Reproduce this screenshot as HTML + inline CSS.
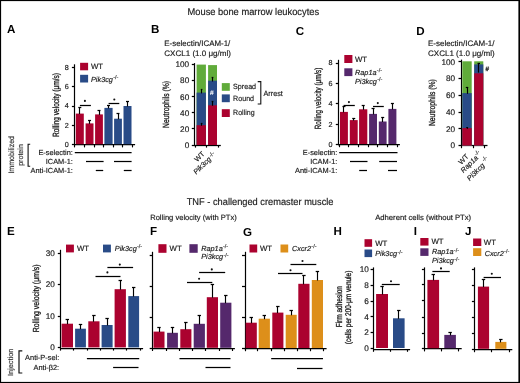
<!DOCTYPE html>
<html><head><meta charset="utf-8"><style>
html,body{margin:0;padding:0;background:#fff;}
svg{display:block;text-rendering:geometricPrecision;font-family:"Liberation Sans",sans-serif;will-change:transform;}
text{stroke:#111;stroke-width:0.22px;stroke-opacity:0.7;}
text[font-weight="bold"]{stroke-width:0;}
</style></head><body>
<svg width="520" height="383" viewBox="0 0 520 383">
<rect width="520" height="383" fill="#fff"/>
<rect x="0.00" y="0.00" width="520.00" height="1.10" fill="#000"/>
<rect x="0.00" y="0.00" width="1.10" height="383.00" fill="#000"/>
<rect x="518.40" y="0.00" width="1.60" height="383.00" fill="#000"/>
<rect x="0.00" y="381.90" width="520.00" height="1.10" fill="#000"/>
<text x="187.50" y="15.30" font-size="9.8" textLength="131.60" lengthAdjust="spacingAndGlyphs" fill="#222">Mouse bone marrow leukocytes</text>
<text x="186.70" y="205.20" font-size="9.8" textLength="146.80" lengthAdjust="spacingAndGlyphs" fill="#222">TNF - challenged cremaster muscle</text>
<text x="150.20" y="219.50" font-size="7.6" textLength="86.60" lengthAdjust="spacingAndGlyphs" fill="#222">Rolling velocity (with PTx)</text>
<text x="375.20" y="219.50" font-size="7.6" textLength="96.00" lengthAdjust="spacingAndGlyphs" fill="#222">Adherent cells (without PTx)</text>
<text x="7.10" y="32.80" font-size="11.6" font-weight="bold" fill="#000">A</text>
<text x="151.00" y="32.80" font-size="11.6" font-weight="bold" fill="#000">B</text>
<text x="295.80" y="34.80" font-size="11.6" font-weight="bold" fill="#000">C</text>
<text x="416.20" y="34.80" font-size="11.6" font-weight="bold" fill="#000">D</text>
<text x="6.90" y="235.30" font-size="11.6" font-weight="bold" fill="#000">E</text>
<text x="149.90" y="235.30" font-size="11.6" font-weight="bold" fill="#000">F</text>
<text x="242.90" y="235.60" font-size="11.6" font-weight="bold" fill="#000">G</text>
<text x="333.60" y="235.30" font-size="11.6" font-weight="bold" fill="#000">H</text>
<text x="413.70" y="235.30" font-size="11.6" font-weight="bold" fill="#000">I</text>
<text x="464.90" y="235.30" font-size="11.6" font-weight="bold" fill="#000">J</text>
<line x1="74.50" y1="64.30" x2="74.50" y2="145.20" stroke="#000" stroke-width="1.2"/>
<line x1="71.90" y1="67.50" x2="74.90" y2="67.50" stroke="#000" stroke-width="1.25"/>
<text x="68.70" y="69.79" font-size="7.2" text-anchor="end" fill="#222">8</text>
<line x1="71.90" y1="86.50" x2="74.90" y2="86.50" stroke="#000" stroke-width="1.25"/>
<text x="68.70" y="89.09" font-size="7.2" text-anchor="end" fill="#222">6</text>
<line x1="71.90" y1="106.50" x2="74.90" y2="106.50" stroke="#000" stroke-width="1.25"/>
<text x="68.70" y="108.39" font-size="7.2" text-anchor="end" fill="#222">4</text>
<line x1="71.90" y1="125.50" x2="74.90" y2="125.50" stroke="#000" stroke-width="1.25"/>
<text x="68.70" y="127.69" font-size="7.2" text-anchor="end" fill="#222">2</text>
<line x1="71.90" y1="144.50" x2="74.90" y2="144.50" stroke="#000" stroke-width="1.25"/>
<text x="68.70" y="146.99" font-size="7.2" text-anchor="end" fill="#222">0</text>
<line x1="74.30" y1="144.50" x2="135.10" y2="144.50" stroke="#000" stroke-width="1.25"/>
<line x1="74.50" y1="144.80" x2="74.50" y2="147.40" stroke="#000" stroke-width="1.15"/>
<line x1="84.50" y1="144.80" x2="84.50" y2="147.40" stroke="#000" stroke-width="1.15"/>
<line x1="94.50" y1="144.80" x2="94.50" y2="147.40" stroke="#000" stroke-width="1.15"/>
<line x1="103.50" y1="144.80" x2="103.50" y2="147.40" stroke="#000" stroke-width="1.15"/>
<line x1="113.50" y1="144.80" x2="113.50" y2="147.40" stroke="#000" stroke-width="1.15"/>
<line x1="122.50" y1="144.80" x2="122.50" y2="147.40" stroke="#000" stroke-width="1.15"/>
<line x1="132.50" y1="144.80" x2="132.50" y2="147.40" stroke="#000" stroke-width="1.15"/>
<rect x="75.80" y="113.60" width="8.00" height="30.60" fill="#ab022f"/>
<line x1="79.50" y1="114.10" x2="79.50" y2="107.20" stroke="#000" stroke-width="1.15"/>
<line x1="78.30" y1="107.50" x2="81.30" y2="107.50" stroke="#000" stroke-width="1.25"/>
<rect x="85.60" y="123.40" width="7.90" height="20.80" fill="#ab022f"/>
<line x1="89.50" y1="123.90" x2="89.50" y2="120.50" stroke="#000" stroke-width="1.15"/>
<line x1="88.05" y1="120.50" x2="91.05" y2="120.50" stroke="#000" stroke-width="1.25"/>
<rect x="95.10" y="114.40" width="7.80" height="29.80" fill="#ab022f"/>
<line x1="99.50" y1="114.90" x2="99.50" y2="110.80" stroke="#000" stroke-width="1.15"/>
<line x1="97.50" y1="110.50" x2="100.50" y2="110.50" stroke="#000" stroke-width="1.25"/>
<rect x="104.40" y="107.90" width="8.20" height="36.30" fill="#294b87"/>
<line x1="108.50" y1="108.40" x2="108.50" y2="105.00" stroke="#000" stroke-width="1.15"/>
<line x1="107.00" y1="105.50" x2="110.00" y2="105.50" stroke="#000" stroke-width="1.25"/>
<rect x="114.10" y="118.70" width="7.80" height="25.50" fill="#294b87"/>
<line x1="118.50" y1="119.20" x2="118.50" y2="113.90" stroke="#000" stroke-width="1.15"/>
<line x1="116.50" y1="113.50" x2="119.50" y2="113.50" stroke="#000" stroke-width="1.25"/>
<rect x="123.50" y="106.00" width="8.00" height="38.20" fill="#294b87"/>
<line x1="127.50" y1="106.50" x2="127.50" y2="101.90" stroke="#000" stroke-width="1.15"/>
<line x1="126.00" y1="101.50" x2="129.00" y2="101.50" stroke="#000" stroke-width="1.25"/>
<line x1="79.90" y1="105.50" x2="90.90" y2="105.50" stroke="#000" stroke-width="1.25"/>
<circle cx="84.90" cy="100.90" r="1.05" fill="#111"/>
<line x1="108.60" y1="103.50" x2="119.30" y2="103.50" stroke="#000" stroke-width="1.25"/>
<circle cx="114.30" cy="99.50" r="1.05" fill="#111"/>
<rect x="80.10" y="62.80" width="8.00" height="7.50" fill="#ab022f"/>
<text x="91.00" y="68.90" font-size="7.8" fill="#222">WT</text>
<rect x="80.10" y="74.80" width="8.00" height="7.70" fill="#294b87"/>
<text x="91.00" y="81.90" font-size="7.3" font-style="italic" fill="#222">Pik3cg</text>
<text x="113.21" y="79.40" font-size="5.5" fill="#555">-/-</text>
<text x="58.50" y="105.00" font-size="9.0" text-anchor="middle" textLength="64.00" lengthAdjust="spacingAndGlyphs" transform="rotate(-90 58.50 105.00)" fill="#111" style="stroke-width:0.4px">Rolling velocity (μm/s)</text>
<text x="72.90" y="154.90" font-size="7.4" text-anchor="end" fill="#222">E-selectin:</text>
<text x="72.90" y="164.10" font-size="7.4" text-anchor="end" fill="#222">ICAM-1:</text>
<text x="72.90" y="173.10" font-size="7.4" text-anchor="end" fill="#222">Anti-ICAM-1:</text>
<line x1="74.80" y1="152.50" x2="131.60" y2="152.50" stroke="#000" stroke-width="1.25"/>
<line x1="86.00" y1="161.50" x2="103.60" y2="161.50" stroke="#000" stroke-width="1.25"/>
<line x1="114.00" y1="161.50" x2="131.60" y2="161.50" stroke="#000" stroke-width="1.25"/>
<line x1="95.80" y1="170.50" x2="103.20" y2="170.50" stroke="#000" stroke-width="1.25"/>
<line x1="123.80" y1="170.50" x2="131.60" y2="170.50" stroke="#000" stroke-width="1.25"/>
<text x="14.20" y="154.80" font-size="7.9" text-anchor="middle" textLength="37.60" lengthAdjust="spacingAndGlyphs" transform="rotate(-90 14.20 154.80)" fill="#444">Immobilized</text>
<text x="23.20" y="155.00" font-size="7.4" text-anchor="middle" textLength="21.70" lengthAdjust="spacingAndGlyphs" transform="rotate(-90 23.20 155.00)" fill="#444">protein</text>
<path d="M30.2,144.3 H28.1 V166.3 H30.2" fill="none" stroke="#111" stroke-width="1.1"/>
<text x="164.30" y="46.00" font-size="7.9" textLength="66.00" lengthAdjust="spacingAndGlyphs" fill="#222">E-selectin/ICAM-1/</text>
<text x="164.30" y="55.70" font-size="7.9" textLength="66.60" lengthAdjust="spacingAndGlyphs" fill="#222">CXCL1 (1.0 μg/ml)</text>
<line x1="194.50" y1="63.10" x2="194.50" y2="145.60" stroke="#000" stroke-width="1.2"/>
<line x1="191.80" y1="64.50" x2="194.80" y2="64.50" stroke="#000" stroke-width="1.25"/>
<text x="189.20" y="67.35" font-size="8.2" text-anchor="end" fill="#222">100</text>
<line x1="191.80" y1="80.50" x2="194.80" y2="80.50" stroke="#000" stroke-width="1.25"/>
<text x="189.20" y="83.43" font-size="8.2" text-anchor="end" fill="#222">80</text>
<line x1="191.80" y1="96.50" x2="194.80" y2="96.50" stroke="#000" stroke-width="1.25"/>
<text x="189.20" y="99.51" font-size="8.2" text-anchor="end" fill="#222">60</text>
<line x1="191.80" y1="112.50" x2="194.80" y2="112.50" stroke="#000" stroke-width="1.25"/>
<text x="189.20" y="115.59" font-size="8.2" text-anchor="end" fill="#222">40</text>
<line x1="191.80" y1="128.50" x2="194.80" y2="128.50" stroke="#000" stroke-width="1.25"/>
<text x="189.20" y="131.67" font-size="8.2" text-anchor="end" fill="#222">20</text>
<line x1="191.80" y1="145.50" x2="194.80" y2="145.50" stroke="#000" stroke-width="1.25"/>
<text x="189.20" y="147.75" font-size="8.2" text-anchor="end" fill="#222">0</text>
<line x1="194.20" y1="145.50" x2="220.80" y2="145.50" stroke="#000" stroke-width="1.25"/>
<line x1="195.50" y1="145.00" x2="195.50" y2="147.60" stroke="#000" stroke-width="1.15"/>
<line x1="206.50" y1="145.00" x2="206.50" y2="147.60" stroke="#000" stroke-width="1.15"/>
<line x1="218.50" y1="145.00" x2="218.50" y2="147.60" stroke="#000" stroke-width="1.15"/>
<rect x="196.60" y="64.60" width="9.30" height="80.40" fill="#60ab3a"/>
<rect x="196.60" y="92.60" width="9.30" height="52.40" fill="#294b87"/>
<rect x="196.60" y="125.20" width="9.30" height="19.80" fill="#ab022f"/>
<rect x="208.10" y="65.10" width="8.90" height="79.90" fill="#60ab3a"/>
<rect x="208.10" y="80.70" width="8.90" height="64.30" fill="#294b87"/>
<rect x="208.10" y="105.30" width="8.90" height="39.70" fill="#ab022f"/>
<line x1="201.50" y1="93.40" x2="201.50" y2="89.60" stroke="#000" stroke-width="1.15"/>
<line x1="200.80" y1="89.50" x2="202.40" y2="89.50" stroke="#000" stroke-width="1.25"/>
<line x1="201.50" y1="125.80" x2="201.50" y2="123.70" stroke="#000" stroke-width="1.15"/>
<line x1="200.80" y1="123.50" x2="202.40" y2="123.50" stroke="#000" stroke-width="1.25"/>
<line x1="212.50" y1="81.50" x2="212.50" y2="77.20" stroke="#000" stroke-width="1.15"/>
<line x1="211.70" y1="77.50" x2="213.30" y2="77.50" stroke="#000" stroke-width="1.25"/>
<line x1="212.50" y1="105.80" x2="212.50" y2="101.00" stroke="#000" stroke-width="1.15"/>
<line x1="211.70" y1="101.50" x2="213.30" y2="101.50" stroke="#000" stroke-width="1.25"/>
<text x="211.90" y="95.00" font-size="6.5" text-anchor="middle" fill="#fff" style="stroke:#fff;stroke-opacity:0.6">#</text>
<rect x="221.80" y="83.10" width="8.00" height="7.70" fill="#60ab3a"/>
<text x="233.10" y="89.40" font-size="7.6" textLength="23.00" lengthAdjust="spacingAndGlyphs" fill="#222">Spread</text>
<rect x="221.80" y="94.40" width="8.00" height="7.80" fill="#294b87"/>
<text x="233.10" y="100.60" font-size="7.6" textLength="21.00" lengthAdjust="spacingAndGlyphs" fill="#222">Round</text>
<rect x="221.80" y="109.20" width="8.00" height="7.80" fill="#ab022f"/>
<text x="233.10" y="115.00" font-size="7.6" textLength="21.50" lengthAdjust="spacingAndGlyphs" fill="#222">Rolling</text>
<path d="M257.7,81.6 H260.8 V104.0 H257.7" fill="none" stroke="#111" stroke-width="1.1"/>
<text x="263.50" y="95.50" font-size="7.6" textLength="19.30" lengthAdjust="spacingAndGlyphs" fill="#222">Arrest</text>
<text x="169.30" y="104.40" font-size="9.0" text-anchor="middle" textLength="47.00" lengthAdjust="spacingAndGlyphs" transform="rotate(-90 169.30 104.40)" fill="#111" style="stroke-width:0.4px">Neutrophils (%)</text>
<text x="205.10" y="154.30" font-size="7.2" text-anchor="end" transform="rotate(-45 205.10 154.30)" fill="#222">WT</text>
<text x="211.60" y="159.60" font-size="7.2" text-anchor="end" font-style="italic" transform="rotate(-45 211.60 159.60)" fill="#222">Pik3cg</text>
<text x="211.00" y="157.50" font-size="5.5" transform="rotate(-45 211.00 157.50)" fill="#555">-/-</text>
<line x1="338.50" y1="59.80" x2="338.50" y2="145.20" stroke="#000" stroke-width="1.2"/>
<line x1="335.80" y1="63.50" x2="338.80" y2="63.50" stroke="#000" stroke-width="1.25"/>
<text x="332.50" y="65.39" font-size="7.2" text-anchor="end" fill="#222">8</text>
<line x1="335.80" y1="83.50" x2="338.80" y2="83.50" stroke="#000" stroke-width="1.25"/>
<text x="332.50" y="85.79" font-size="7.2" text-anchor="end" fill="#222">6</text>
<line x1="335.80" y1="103.50" x2="338.80" y2="103.50" stroke="#000" stroke-width="1.25"/>
<text x="332.50" y="106.19" font-size="7.2" text-anchor="end" fill="#222">4</text>
<line x1="335.80" y1="124.50" x2="338.80" y2="124.50" stroke="#000" stroke-width="1.25"/>
<text x="332.50" y="126.59" font-size="7.2" text-anchor="end" fill="#222">2</text>
<line x1="335.80" y1="144.50" x2="338.80" y2="144.50" stroke="#000" stroke-width="1.25"/>
<text x="332.50" y="146.99" font-size="7.2" text-anchor="end" fill="#222">0</text>
<line x1="338.20" y1="144.50" x2="399.90" y2="144.50" stroke="#000" stroke-width="1.25"/>
<line x1="339.50" y1="144.60" x2="339.50" y2="147.20" stroke="#000" stroke-width="1.15"/>
<line x1="348.50" y1="144.60" x2="348.50" y2="147.20" stroke="#000" stroke-width="1.15"/>
<line x1="358.50" y1="144.60" x2="358.50" y2="147.20" stroke="#000" stroke-width="1.15"/>
<line x1="368.50" y1="144.60" x2="368.50" y2="147.20" stroke="#000" stroke-width="1.15"/>
<line x1="377.50" y1="144.60" x2="377.50" y2="147.20" stroke="#000" stroke-width="1.15"/>
<line x1="387.50" y1="144.60" x2="387.50" y2="147.20" stroke="#000" stroke-width="1.15"/>
<line x1="397.50" y1="144.60" x2="397.50" y2="147.20" stroke="#000" stroke-width="1.15"/>
<rect x="340.00" y="111.90" width="7.90" height="32.10" fill="#ab022f"/>
<line x1="343.50" y1="112.40" x2="343.50" y2="106.80" stroke="#000" stroke-width="1.15"/>
<line x1="342.45" y1="106.50" x2="345.45" y2="106.50" stroke="#000" stroke-width="1.25"/>
<rect x="349.80" y="120.10" width="7.90" height="23.90" fill="#ab022f"/>
<line x1="353.50" y1="120.60" x2="353.50" y2="118.00" stroke="#000" stroke-width="1.15"/>
<line x1="352.25" y1="118.50" x2="355.25" y2="118.50" stroke="#000" stroke-width="1.25"/>
<rect x="359.10" y="109.30" width="8.20" height="34.70" fill="#ab022f"/>
<line x1="363.50" y1="109.80" x2="363.50" y2="105.30" stroke="#000" stroke-width="1.15"/>
<line x1="361.70" y1="105.50" x2="364.70" y2="105.50" stroke="#000" stroke-width="1.25"/>
<rect x="369.10" y="113.90" width="7.90" height="30.10" fill="#55286c"/>
<line x1="373.50" y1="114.40" x2="373.50" y2="108.20" stroke="#000" stroke-width="1.15"/>
<line x1="371.55" y1="108.50" x2="374.55" y2="108.50" stroke="#000" stroke-width="1.25"/>
<rect x="378.80" y="121.50" width="7.80" height="22.50" fill="#55286c"/>
<line x1="382.50" y1="122.00" x2="382.50" y2="117.20" stroke="#000" stroke-width="1.15"/>
<line x1="381.20" y1="117.50" x2="384.20" y2="117.50" stroke="#000" stroke-width="1.25"/>
<rect x="388.40" y="108.90" width="8.00" height="35.10" fill="#55286c"/>
<line x1="392.50" y1="109.40" x2="392.50" y2="103.20" stroke="#000" stroke-width="1.15"/>
<line x1="390.90" y1="103.50" x2="393.90" y2="103.50" stroke="#000" stroke-width="1.25"/>
<line x1="343.60" y1="105.50" x2="354.80" y2="105.50" stroke="#000" stroke-width="1.25"/>
<circle cx="348.90" cy="102.10" r="1.05" fill="#111"/>
<line x1="373.00" y1="106.50" x2="383.80" y2="106.50" stroke="#000" stroke-width="1.25"/>
<circle cx="377.80" cy="103.10" r="1.05" fill="#111"/>
<rect x="344.30" y="55.00" width="8.10" height="8.00" fill="#ab022f"/>
<text x="355.00" y="61.50" font-size="7.8" fill="#222">WT</text>
<rect x="344.30" y="68.30" width="8.10" height="7.80" fill="#55286c"/>
<text x="355.00" y="74.90" font-size="7.3" font-style="italic" fill="#222">Rap1a</text>
<text x="376.81" y="72.40" font-size="5.5" fill="#555">-/-</text>
<text x="355.00" y="83.90" font-size="7.3" font-style="italic" fill="#222">Pi3kcg</text>
<text x="377.21" y="81.40" font-size="5.5" fill="#555">-/-</text>
<text x="321.20" y="98.40" font-size="9.0" text-anchor="middle" textLength="61.50" lengthAdjust="spacingAndGlyphs" transform="rotate(-90 321.20 98.40)" fill="#111" style="stroke-width:0.4px">Rolling velocity (μm/s)</text>
<text x="337.30" y="155.00" font-size="7.4" text-anchor="end" fill="#222">E-selectin:</text>
<text x="337.30" y="164.20" font-size="7.4" text-anchor="end" fill="#222">ICAM-1:</text>
<text x="337.30" y="173.20" font-size="7.4" text-anchor="end" fill="#222">Anti-ICAM-1:</text>
<line x1="339.20" y1="152.50" x2="397.50" y2="152.50" stroke="#000" stroke-width="1.25"/>
<line x1="350.00" y1="161.50" x2="367.50" y2="161.50" stroke="#000" stroke-width="1.25"/>
<line x1="379.20" y1="161.50" x2="397.00" y2="161.50" stroke="#000" stroke-width="1.25"/>
<line x1="359.20" y1="170.50" x2="367.00" y2="170.50" stroke="#000" stroke-width="1.25"/>
<line x1="388.00" y1="170.50" x2="397.00" y2="170.50" stroke="#000" stroke-width="1.25"/>
<text x="428.00" y="46.20" font-size="7.9" textLength="66.50" lengthAdjust="spacingAndGlyphs" fill="#222">E-selectin/ICAM-1/</text>
<text x="428.00" y="56.00" font-size="7.9" textLength="66.60" lengthAdjust="spacingAndGlyphs" fill="#222">CXCL1 (1.0 μg/ml)</text>
<line x1="461.50" y1="59.60" x2="461.50" y2="146.20" stroke="#000" stroke-width="1.2"/>
<line x1="458.50" y1="61.50" x2="461.50" y2="61.50" stroke="#000" stroke-width="1.25"/>
<text x="455.10" y="64.60" font-size="8.2" text-anchor="end" fill="#222">100</text>
<line x1="458.50" y1="78.50" x2="461.50" y2="78.50" stroke="#000" stroke-width="1.25"/>
<text x="455.10" y="81.35" font-size="8.2" text-anchor="end" fill="#222">80</text>
<line x1="458.50" y1="95.50" x2="461.50" y2="95.50" stroke="#000" stroke-width="1.25"/>
<text x="455.10" y="98.10" font-size="8.2" text-anchor="end" fill="#222">60</text>
<line x1="458.50" y1="112.50" x2="461.50" y2="112.50" stroke="#000" stroke-width="1.25"/>
<text x="455.10" y="114.85" font-size="8.2" text-anchor="end" fill="#222">40</text>
<line x1="458.50" y1="128.50" x2="461.50" y2="128.50" stroke="#000" stroke-width="1.25"/>
<text x="455.10" y="131.60" font-size="8.2" text-anchor="end" fill="#222">20</text>
<line x1="458.50" y1="145.50" x2="461.50" y2="145.50" stroke="#000" stroke-width="1.25"/>
<text x="455.10" y="148.35" font-size="8.2" text-anchor="end" fill="#222">0</text>
<line x1="460.90" y1="145.50" x2="487.50" y2="145.50" stroke="#000" stroke-width="1.25"/>
<line x1="461.50" y1="145.60" x2="461.50" y2="148.20" stroke="#000" stroke-width="1.15"/>
<line x1="473.50" y1="145.60" x2="473.50" y2="148.20" stroke="#000" stroke-width="1.15"/>
<line x1="484.50" y1="145.60" x2="484.50" y2="148.20" stroke="#000" stroke-width="1.15"/>
<rect x="462.30" y="61.30" width="9.40" height="84.30" fill="#60ab3a"/>
<rect x="462.30" y="93.10" width="9.40" height="52.50" fill="#294b87"/>
<rect x="462.30" y="128.10" width="9.40" height="17.50" fill="#ab022f"/>
<rect x="474.20" y="61.30" width="9.10" height="84.30" fill="#60ab3a"/>
<rect x="474.20" y="64.40" width="9.10" height="81.20" fill="#294b87"/>
<rect x="474.20" y="73.30" width="9.10" height="72.30" fill="#ab022f"/>
<line x1="467.50" y1="93.80" x2="467.50" y2="87.00" stroke="#000" stroke-width="1.15"/>
<line x1="465.80" y1="87.50" x2="468.20" y2="87.50" stroke="#000" stroke-width="1.25"/>
<line x1="467.50" y1="128.80" x2="467.50" y2="127.00" stroke="#000" stroke-width="1.15"/>
<line x1="466.25" y1="127.50" x2="467.75" y2="127.50" stroke="#000" stroke-width="1.25"/>
<line x1="478.50" y1="72.60" x2="478.50" y2="63.00" stroke="#000" stroke-width="1.15"/>
<line x1="477.60" y1="63.50" x2="480.00" y2="63.50" stroke="#000" stroke-width="1.25"/>
<text x="485.40" y="71.30" font-size="6.2" fill="#111" style="stroke-width:0.5px">#</text>
<text x="435.10" y="102.60" font-size="8.8" text-anchor="middle" textLength="47.00" lengthAdjust="spacingAndGlyphs" transform="rotate(-90 435.10 102.60)" fill="#111" style="stroke-width:0.4px">Neutrophils (%)</text>
<text x="469.20" y="157.00" font-size="7.2" text-anchor="end" transform="rotate(-45 469.20 157.00)" fill="#222">WT</text>
<text x="478.60" y="158.30" font-size="7.2" text-anchor="end" font-style="italic" transform="rotate(-45 478.60 158.30)" fill="#222">Rap1a</text>
<text x="476.50" y="155.90" font-size="5.5" transform="rotate(-45 476.50 155.90)" fill="#555">-/-</text>
<text x="485.00" y="166.00" font-size="7.2" text-anchor="end" font-style="italic" transform="rotate(-45 485.00 166.00)" fill="#222">Pi3kcg</text>
<text x="484.00" y="161.90" font-size="5.5" transform="rotate(-45 484.00 161.90)" fill="#555">-/-</text>
<line x1="60.50" y1="249.80" x2="60.50" y2="348.20" stroke="#000" stroke-width="1.2"/>
<line x1="57.80" y1="253.50" x2="60.80" y2="253.50" stroke="#000" stroke-width="1.25"/>
<text x="54.80" y="255.85" font-size="8.2" text-anchor="end" fill="#222">30</text>
<line x1="57.80" y1="284.50" x2="60.80" y2="284.50" stroke="#000" stroke-width="1.25"/>
<text x="54.80" y="287.35" font-size="8.2" text-anchor="end" fill="#222">20</text>
<line x1="57.80" y1="316.50" x2="60.80" y2="316.50" stroke="#000" stroke-width="1.25"/>
<text x="54.80" y="318.85" font-size="8.2" text-anchor="end" fill="#222">10</text>
<line x1="57.80" y1="347.50" x2="60.80" y2="347.50" stroke="#000" stroke-width="1.25"/>
<text x="54.80" y="350.35" font-size="8.2" text-anchor="end" fill="#222">0</text>
<line x1="60.20" y1="348.50" x2="143.10" y2="348.50" stroke="#000" stroke-width="1.25"/>
<line x1="60.50" y1="348.00" x2="60.50" y2="350.60" stroke="#000" stroke-width="1.15"/>
<line x1="73.50" y1="348.00" x2="73.50" y2="350.60" stroke="#000" stroke-width="1.15"/>
<line x1="87.50" y1="348.00" x2="87.50" y2="350.60" stroke="#000" stroke-width="1.15"/>
<line x1="100.50" y1="348.00" x2="100.50" y2="350.60" stroke="#000" stroke-width="1.15"/>
<line x1="113.50" y1="348.00" x2="113.50" y2="350.60" stroke="#000" stroke-width="1.15"/>
<line x1="126.50" y1="348.00" x2="126.50" y2="350.60" stroke="#000" stroke-width="1.15"/>
<line x1="140.50" y1="348.00" x2="140.50" y2="350.60" stroke="#000" stroke-width="1.15"/>
<rect x="61.60" y="323.70" width="11.40" height="23.70" fill="#ab022f"/>
<line x1="67.50" y1="324.20" x2="67.50" y2="319.70" stroke="#000" stroke-width="1.15"/>
<line x1="65.60" y1="319.50" x2="69.00" y2="319.50" stroke="#000" stroke-width="1.25"/>
<rect x="75.10" y="328.70" width="10.80" height="18.70" fill="#294b87"/>
<line x1="80.50" y1="329.20" x2="80.50" y2="324.40" stroke="#000" stroke-width="1.15"/>
<line x1="78.80" y1="324.50" x2="82.20" y2="324.50" stroke="#000" stroke-width="1.25"/>
<rect x="88.30" y="321.30" width="11.20" height="26.10" fill="#ab022f"/>
<line x1="93.50" y1="321.80" x2="93.50" y2="315.10" stroke="#000" stroke-width="1.15"/>
<line x1="92.20" y1="315.50" x2="95.60" y2="315.50" stroke="#000" stroke-width="1.25"/>
<rect x="101.60" y="325.00" width="11.00" height="22.40" fill="#294b87"/>
<line x1="107.50" y1="325.50" x2="107.50" y2="318.20" stroke="#000" stroke-width="1.15"/>
<line x1="105.40" y1="318.50" x2="108.80" y2="318.50" stroke="#000" stroke-width="1.25"/>
<rect x="114.60" y="289.20" width="11.30" height="58.20" fill="#ab022f"/>
<line x1="120.50" y1="289.70" x2="120.50" y2="280.80" stroke="#000" stroke-width="1.15"/>
<line x1="118.55" y1="280.50" x2="121.95" y2="280.50" stroke="#000" stroke-width="1.25"/>
<rect x="128.30" y="296.10" width="10.80" height="51.30" fill="#294b87"/>
<line x1="133.50" y1="296.60" x2="133.50" y2="287.90" stroke="#000" stroke-width="1.15"/>
<line x1="132.00" y1="287.50" x2="135.40" y2="287.50" stroke="#000" stroke-width="1.25"/>
<line x1="107.40" y1="267.50" x2="133.10" y2="267.50" stroke="#000" stroke-width="1.25"/>
<circle cx="119.80" cy="264.60" r="1.05" fill="#111"/>
<line x1="95.50" y1="276.50" x2="120.50" y2="276.50" stroke="#000" stroke-width="1.25"/>
<circle cx="107.40" cy="272.40" r="1.05" fill="#111"/>
<rect x="66.00" y="244.60" width="7.90" height="7.80" fill="#ab022f"/>
<text x="77.00" y="250.60" font-size="7.8" fill="#222">WT</text>
<rect x="103.00" y="244.60" width="7.90" height="7.80" fill="#294b87"/>
<text x="114.80" y="250.80" font-size="7.3" font-style="italic" fill="#222">Pik3cg</text>
<text x="137.01" y="248.30" font-size="5.5" fill="#555">-/-</text>
<text x="39.40" y="298.30" font-size="8.8" text-anchor="middle" textLength="67.80" lengthAdjust="spacingAndGlyphs" transform="rotate(-90 39.40 298.30)" fill="#111" style="stroke-width:0.4px">Rolling velocity (μm/s)</text>
<text x="59.20" y="360.00" font-size="7.4" text-anchor="end" fill="#222">Anti-P-sel:</text>
<text x="59.20" y="370.00" font-size="7.4" text-anchor="end" fill="#222">Anti-β2:</text>
<text x="13.40" y="362.30" font-size="7.4" text-anchor="middle" textLength="27.50" lengthAdjust="spacingAndGlyphs" transform="rotate(-90 13.40 362.30)" fill="#444">Injection</text>
<path d="M22.3,350.8 H19.0 V373.0 H22.3" fill="none" stroke="#111" stroke-width="1.2"/>
<line x1="86.90" y1="358.50" x2="139.20" y2="358.50" stroke="#000" stroke-width="1.25"/>
<line x1="113.10" y1="367.50" x2="138.50" y2="367.50" stroke="#000" stroke-width="1.25"/>
<line x1="152.50" y1="251.80" x2="152.50" y2="349.00" stroke="#000" stroke-width="1.2"/>
<line x1="149.70" y1="255.50" x2="152.70" y2="255.50" stroke="#000" stroke-width="1.25"/>
<line x1="149.70" y1="286.50" x2="152.70" y2="286.50" stroke="#000" stroke-width="1.25"/>
<line x1="149.70" y1="317.50" x2="152.70" y2="317.50" stroke="#000" stroke-width="1.25"/>
<line x1="149.70" y1="348.50" x2="152.70" y2="348.50" stroke="#000" stroke-width="1.25"/>
<line x1="152.10" y1="348.50" x2="234.90" y2="348.50" stroke="#000" stroke-width="1.25"/>
<line x1="152.50" y1="348.40" x2="152.50" y2="351.00" stroke="#000" stroke-width="1.15"/>
<line x1="166.50" y1="348.40" x2="166.50" y2="351.00" stroke="#000" stroke-width="1.15"/>
<line x1="179.50" y1="348.40" x2="179.50" y2="351.00" stroke="#000" stroke-width="1.15"/>
<line x1="192.50" y1="348.40" x2="192.50" y2="351.00" stroke="#000" stroke-width="1.15"/>
<line x1="205.50" y1="348.40" x2="205.50" y2="351.00" stroke="#000" stroke-width="1.15"/>
<line x1="219.50" y1="348.40" x2="219.50" y2="351.00" stroke="#000" stroke-width="1.15"/>
<line x1="232.50" y1="348.40" x2="232.50" y2="351.00" stroke="#000" stroke-width="1.15"/>
<rect x="153.50" y="331.60" width="11.00" height="16.20" fill="#ab022f"/>
<line x1="159.50" y1="332.10" x2="159.50" y2="327.60" stroke="#000" stroke-width="1.15"/>
<line x1="157.30" y1="327.50" x2="160.70" y2="327.50" stroke="#000" stroke-width="1.25"/>
<rect x="167.10" y="332.80" width="10.80" height="15.00" fill="#55286c"/>
<line x1="172.50" y1="333.30" x2="172.50" y2="327.30" stroke="#000" stroke-width="1.15"/>
<line x1="170.80" y1="327.50" x2="174.20" y2="327.50" stroke="#000" stroke-width="1.25"/>
<rect x="180.30" y="329.20" width="11.10" height="18.60" fill="#ab022f"/>
<line x1="185.50" y1="329.70" x2="185.50" y2="322.30" stroke="#000" stroke-width="1.15"/>
<line x1="184.15" y1="322.50" x2="187.55" y2="322.50" stroke="#000" stroke-width="1.25"/>
<rect x="193.70" y="323.80" width="11.20" height="24.00" fill="#55286c"/>
<line x1="199.50" y1="324.30" x2="199.50" y2="315.30" stroke="#000" stroke-width="1.15"/>
<line x1="197.60" y1="315.50" x2="201.00" y2="315.50" stroke="#000" stroke-width="1.25"/>
<rect x="206.80" y="297.20" width="11.20" height="50.60" fill="#ab022f"/>
<line x1="212.50" y1="297.70" x2="212.50" y2="284.30" stroke="#000" stroke-width="1.15"/>
<line x1="210.70" y1="284.50" x2="214.10" y2="284.50" stroke="#000" stroke-width="1.25"/>
<rect x="220.20" y="302.70" width="11.20" height="45.10" fill="#55286c"/>
<line x1="225.50" y1="303.20" x2="225.50" y2="295.50" stroke="#000" stroke-width="1.15"/>
<line x1="224.10" y1="295.50" x2="227.50" y2="295.50" stroke="#000" stroke-width="1.25"/>
<line x1="199.10" y1="272.50" x2="225.20" y2="272.50" stroke="#000" stroke-width="1.25"/>
<circle cx="211.80" cy="269.40" r="1.05" fill="#111"/>
<line x1="187.00" y1="282.50" x2="212.30" y2="282.50" stroke="#000" stroke-width="1.25"/>
<circle cx="199.10" cy="278.80" r="1.05" fill="#111"/>
<rect x="158.40" y="244.20" width="8.10" height="8.60" fill="#ab022f"/>
<text x="169.60" y="250.80" font-size="7.8" fill="#222">WT</text>
<rect x="189.40" y="244.20" width="8.30" height="8.60" fill="#55286c"/>
<text x="201.20" y="250.80" font-size="7.3" font-style="italic" fill="#222">Rap1a</text>
<text x="223.01" y="248.30" font-size="5.5" fill="#555">-/-</text>
<text x="201.20" y="259.20" font-size="7.3" font-style="italic" fill="#222">Pi3kcg</text>
<text x="223.41" y="256.70" font-size="5.5" fill="#555">-/-</text>
<line x1="179.50" y1="358.50" x2="230.50" y2="358.50" stroke="#000" stroke-width="1.25"/>
<line x1="205.50" y1="367.50" x2="230.50" y2="367.50" stroke="#000" stroke-width="1.25"/>
<line x1="245.50" y1="251.80" x2="245.50" y2="349.20" stroke="#000" stroke-width="1.2"/>
<line x1="242.00" y1="255.50" x2="245.00" y2="255.50" stroke="#000" stroke-width="1.25"/>
<line x1="242.00" y1="286.50" x2="245.00" y2="286.50" stroke="#000" stroke-width="1.25"/>
<line x1="242.00" y1="317.50" x2="245.00" y2="317.50" stroke="#000" stroke-width="1.25"/>
<line x1="242.00" y1="348.50" x2="245.00" y2="348.50" stroke="#000" stroke-width="1.25"/>
<line x1="244.40" y1="348.50" x2="326.60" y2="348.50" stroke="#000" stroke-width="1.25"/>
<line x1="245.50" y1="348.60" x2="245.50" y2="351.20" stroke="#000" stroke-width="1.15"/>
<line x1="257.50" y1="348.60" x2="257.50" y2="351.20" stroke="#000" stroke-width="1.15"/>
<line x1="271.50" y1="348.60" x2="271.50" y2="351.20" stroke="#000" stroke-width="1.15"/>
<line x1="284.50" y1="348.60" x2="284.50" y2="351.20" stroke="#000" stroke-width="1.15"/>
<line x1="297.50" y1="348.60" x2="297.50" y2="351.20" stroke="#000" stroke-width="1.15"/>
<line x1="310.50" y1="348.60" x2="310.50" y2="351.20" stroke="#000" stroke-width="1.15"/>
<line x1="323.50" y1="348.60" x2="323.50" y2="351.20" stroke="#000" stroke-width="1.15"/>
<rect x="245.70" y="322.70" width="11.10" height="25.30" fill="#ab022f"/>
<line x1="251.50" y1="323.20" x2="251.50" y2="317.00" stroke="#000" stroke-width="1.15"/>
<line x1="249.55" y1="317.50" x2="252.95" y2="317.50" stroke="#000" stroke-width="1.25"/>
<rect x="258.70" y="318.70" width="11.20" height="29.30" fill="#dd8f1a"/>
<line x1="264.50" y1="319.20" x2="264.50" y2="315.50" stroke="#000" stroke-width="1.15"/>
<line x1="262.60" y1="315.50" x2="266.00" y2="315.50" stroke="#000" stroke-width="1.25"/>
<rect x="272.30" y="312.60" width="11.10" height="35.40" fill="#ab022f"/>
<line x1="277.50" y1="313.10" x2="277.50" y2="306.90" stroke="#000" stroke-width="1.15"/>
<line x1="276.15" y1="306.50" x2="279.55" y2="306.50" stroke="#000" stroke-width="1.25"/>
<rect x="285.70" y="314.80" width="11.00" height="33.20" fill="#dd8f1a"/>
<line x1="291.50" y1="315.30" x2="291.50" y2="310.00" stroke="#000" stroke-width="1.15"/>
<line x1="289.50" y1="310.50" x2="292.90" y2="310.50" stroke="#000" stroke-width="1.25"/>
<rect x="298.30" y="283.80" width="11.20" height="64.20" fill="#ab022f"/>
<line x1="303.50" y1="284.30" x2="303.50" y2="275.00" stroke="#000" stroke-width="1.15"/>
<line x1="302.20" y1="275.50" x2="305.60" y2="275.50" stroke="#000" stroke-width="1.25"/>
<rect x="311.80" y="280.00" width="11.20" height="68.00" fill="#dd8f1a"/>
<line x1="317.50" y1="280.50" x2="317.50" y2="271.30" stroke="#000" stroke-width="1.15"/>
<line x1="315.70" y1="271.50" x2="319.10" y2="271.50" stroke="#000" stroke-width="1.25"/>
<line x1="290.50" y1="264.50" x2="316.30" y2="264.50" stroke="#000" stroke-width="1.25"/>
<circle cx="302.50" cy="261.00" r="1.05" fill="#111"/>
<line x1="278.00" y1="273.50" x2="302.50" y2="273.50" stroke="#000" stroke-width="1.25"/>
<circle cx="290.50" cy="270.20" r="1.05" fill="#111"/>
<rect x="249.50" y="244.50" width="7.70" height="8.00" fill="#ab022f"/>
<text x="260.00" y="250.80" font-size="7.8" fill="#222">WT</text>
<rect x="280.50" y="244.50" width="7.70" height="8.00" fill="#dd8f1a"/>
<text x="292.00" y="250.80" font-size="7.3" font-style="italic" fill="#222">Cxcr2</text>
<text x="311.36" y="248.30" font-size="5.5" fill="#555">-/-</text>
<line x1="271.20" y1="358.50" x2="323.00" y2="358.50" stroke="#000" stroke-width="1.25"/>
<line x1="297.00" y1="368.50" x2="322.50" y2="368.50" stroke="#000" stroke-width="1.25"/>
<line x1="373.50" y1="267.40" x2="373.50" y2="349.00" stroke="#000" stroke-width="1.2"/>
<line x1="370.60" y1="269.50" x2="373.60" y2="269.50" stroke="#000" stroke-width="1.25"/>
<text x="368.90" y="272.15" font-size="8.2" text-anchor="end" fill="#222">10</text>
<line x1="370.60" y1="285.50" x2="373.60" y2="285.50" stroke="#000" stroke-width="1.25"/>
<text x="368.90" y="287.95" font-size="8.2" text-anchor="end" fill="#222">8</text>
<line x1="370.60" y1="301.50" x2="373.60" y2="301.50" stroke="#000" stroke-width="1.25"/>
<text x="368.90" y="303.75" font-size="8.2" text-anchor="end" fill="#222">6</text>
<line x1="370.60" y1="316.50" x2="373.60" y2="316.50" stroke="#000" stroke-width="1.25"/>
<text x="368.90" y="319.55" font-size="8.2" text-anchor="end" fill="#222">4</text>
<line x1="370.60" y1="332.50" x2="373.60" y2="332.50" stroke="#000" stroke-width="1.25"/>
<text x="368.90" y="335.35" font-size="8.2" text-anchor="end" fill="#222">2</text>
<line x1="370.60" y1="348.50" x2="373.60" y2="348.50" stroke="#000" stroke-width="1.25"/>
<text x="368.90" y="351.15" font-size="8.2" text-anchor="end" fill="#222">0</text>
<line x1="373.00" y1="349.50" x2="410.10" y2="349.50" stroke="#000" stroke-width="1.25"/>
<line x1="373.50" y1="349.20" x2="373.50" y2="351.80" stroke="#000" stroke-width="1.15"/>
<line x1="390.50" y1="349.20" x2="390.50" y2="351.80" stroke="#000" stroke-width="1.15"/>
<line x1="407.50" y1="349.20" x2="407.50" y2="351.80" stroke="#000" stroke-width="1.15"/>
<rect x="376.10" y="294.00" width="11.90" height="54.00" fill="#ab022f"/>
<line x1="382.50" y1="294.50" x2="382.50" y2="286.00" stroke="#000" stroke-width="1.15"/>
<line x1="380.35" y1="286.50" x2="383.75" y2="286.50" stroke="#000" stroke-width="1.25"/>
<rect x="393.00" y="318.30" width="11.60" height="29.70" fill="#294b87"/>
<line x1="398.50" y1="318.80" x2="398.50" y2="310.90" stroke="#000" stroke-width="1.15"/>
<line x1="397.10" y1="310.50" x2="400.50" y2="310.50" stroke="#000" stroke-width="1.25"/>
<line x1="381.80" y1="284.50" x2="399.70" y2="284.50" stroke="#000" stroke-width="1.25"/>
<circle cx="391.00" cy="281.30" r="1.05" fill="#111"/>
<rect x="364.50" y="239.20" width="7.60" height="7.60" fill="#ab022f"/>
<text x="375.20" y="245.80" font-size="7.8" fill="#222">WT</text>
<rect x="364.50" y="249.50" width="7.60" height="7.60" fill="#294b87"/>
<text x="375.20" y="256.00" font-size="7.3" font-style="italic" fill="#222">Pik3cg</text>
<text x="397.41" y="253.50" font-size="5.5" fill="#555">-/-</text>
<text x="341.60" y="306.70" font-size="8.7" text-anchor="middle" textLength="41.20" lengthAdjust="spacingAndGlyphs" transform="rotate(-90 341.60 306.70)" fill="#111" style="stroke-width:0.4px">Firm adhesion</text>
<text x="351.20" y="307.40" font-size="8.3" text-anchor="middle" textLength="73.50" lengthAdjust="spacingAndGlyphs" transform="rotate(-90 351.20 307.40)" fill="#111" style="stroke-width:0.4px">(cells per 200-μm venule)</text>
<line x1="424.50" y1="267.40" x2="424.50" y2="349.20" stroke="#000" stroke-width="1.2"/>
<line x1="421.90" y1="269.50" x2="424.90" y2="269.50" stroke="#000" stroke-width="1.25"/>
<line x1="421.90" y1="284.50" x2="424.90" y2="284.50" stroke="#000" stroke-width="1.25"/>
<line x1="421.90" y1="300.50" x2="424.90" y2="300.50" stroke="#000" stroke-width="1.25"/>
<line x1="421.90" y1="317.50" x2="424.90" y2="317.50" stroke="#000" stroke-width="1.25"/>
<line x1="421.90" y1="333.50" x2="424.90" y2="333.50" stroke="#000" stroke-width="1.25"/>
<line x1="421.90" y1="348.50" x2="424.90" y2="348.50" stroke="#000" stroke-width="1.25"/>
<line x1="424.30" y1="348.50" x2="461.70" y2="348.50" stroke="#000" stroke-width="1.25"/>
<line x1="424.50" y1="348.80" x2="424.50" y2="351.40" stroke="#000" stroke-width="1.15"/>
<line x1="441.50" y1="348.80" x2="441.50" y2="351.40" stroke="#000" stroke-width="1.15"/>
<line x1="458.50" y1="348.80" x2="458.50" y2="351.40" stroke="#000" stroke-width="1.15"/>
<rect x="427.40" y="279.90" width="11.70" height="68.30" fill="#ab022f"/>
<line x1="433.50" y1="280.40" x2="433.50" y2="274.90" stroke="#000" stroke-width="1.15"/>
<line x1="431.55" y1="274.50" x2="434.95" y2="274.50" stroke="#000" stroke-width="1.25"/>
<rect x="444.30" y="334.90" width="11.60" height="13.30" fill="#55286c"/>
<line x1="450.50" y1="335.40" x2="450.50" y2="332.00" stroke="#000" stroke-width="1.15"/>
<line x1="448.40" y1="332.50" x2="451.80" y2="332.50" stroke="#000" stroke-width="1.25"/>
<line x1="432.40" y1="271.50" x2="449.70" y2="271.50" stroke="#000" stroke-width="1.25"/>
<circle cx="441.00" cy="268.40" r="1.05" fill="#111"/>
<rect x="420.30" y="238.00" width="8.20" height="7.60" fill="#ab022f"/>
<text x="431.50" y="244.10" font-size="7.8" fill="#222">WT</text>
<rect x="420.30" y="248.30" width="8.20" height="7.60" fill="#55286c"/>
<text x="432.00" y="254.40" font-size="7.3" font-style="italic" fill="#222">Rap1a</text>
<text x="453.81" y="251.90" font-size="5.5" fill="#555">-/-</text>
<text x="432.00" y="263.00" font-size="7.3" font-style="italic" fill="#222">Pi3kcg</text>
<text x="454.21" y="260.50" font-size="5.5" fill="#555">-/-</text>
<line x1="474.50" y1="267.40" x2="474.50" y2="349.90" stroke="#000" stroke-width="1.2"/>
<line x1="471.90" y1="269.50" x2="474.90" y2="269.50" stroke="#000" stroke-width="1.25"/>
<line x1="471.90" y1="285.50" x2="474.90" y2="285.50" stroke="#000" stroke-width="1.25"/>
<line x1="471.90" y1="301.50" x2="474.90" y2="301.50" stroke="#000" stroke-width="1.25"/>
<line x1="471.90" y1="317.50" x2="474.90" y2="317.50" stroke="#000" stroke-width="1.25"/>
<line x1="471.90" y1="333.50" x2="474.90" y2="333.50" stroke="#000" stroke-width="1.25"/>
<line x1="471.90" y1="349.50" x2="474.90" y2="349.50" stroke="#000" stroke-width="1.25"/>
<line x1="474.30" y1="349.50" x2="512.30" y2="349.50" stroke="#000" stroke-width="1.25"/>
<line x1="474.50" y1="349.60" x2="474.50" y2="352.20" stroke="#000" stroke-width="1.15"/>
<line x1="491.50" y1="349.60" x2="491.50" y2="352.20" stroke="#000" stroke-width="1.15"/>
<line x1="509.50" y1="349.60" x2="509.50" y2="352.20" stroke="#000" stroke-width="1.15"/>
<rect x="477.90" y="286.60" width="11.20" height="62.20" fill="#ab022f"/>
<line x1="483.50" y1="287.10" x2="483.50" y2="279.40" stroke="#000" stroke-width="1.15"/>
<line x1="481.80" y1="279.50" x2="485.20" y2="279.50" stroke="#000" stroke-width="1.25"/>
<rect x="495.30" y="341.90" width="11.10" height="6.90" fill="#dd8f1a"/>
<line x1="500.50" y1="342.40" x2="500.50" y2="339.90" stroke="#000" stroke-width="1.15"/>
<line x1="499.15" y1="339.50" x2="502.55" y2="339.50" stroke="#000" stroke-width="1.25"/>
<line x1="483.60" y1="277.50" x2="501.00" y2="277.50" stroke="#000" stroke-width="1.25"/>
<circle cx="491.80" cy="273.80" r="1.05" fill="#111"/>
<rect x="473.10" y="238.50" width="8.20" height="7.50" fill="#ab022f"/>
<text x="483.80" y="245.00" font-size="7.8" fill="#222">WT</text>
<rect x="473.10" y="248.20" width="8.20" height="7.80" fill="#dd8f1a"/>
<text x="484.70" y="255.60" font-size="7.3" font-style="italic" fill="#222">Cxcr2</text>
<text x="504.06" y="253.10" font-size="5.5" fill="#555">-/-</text>
</svg>
</body></html>
